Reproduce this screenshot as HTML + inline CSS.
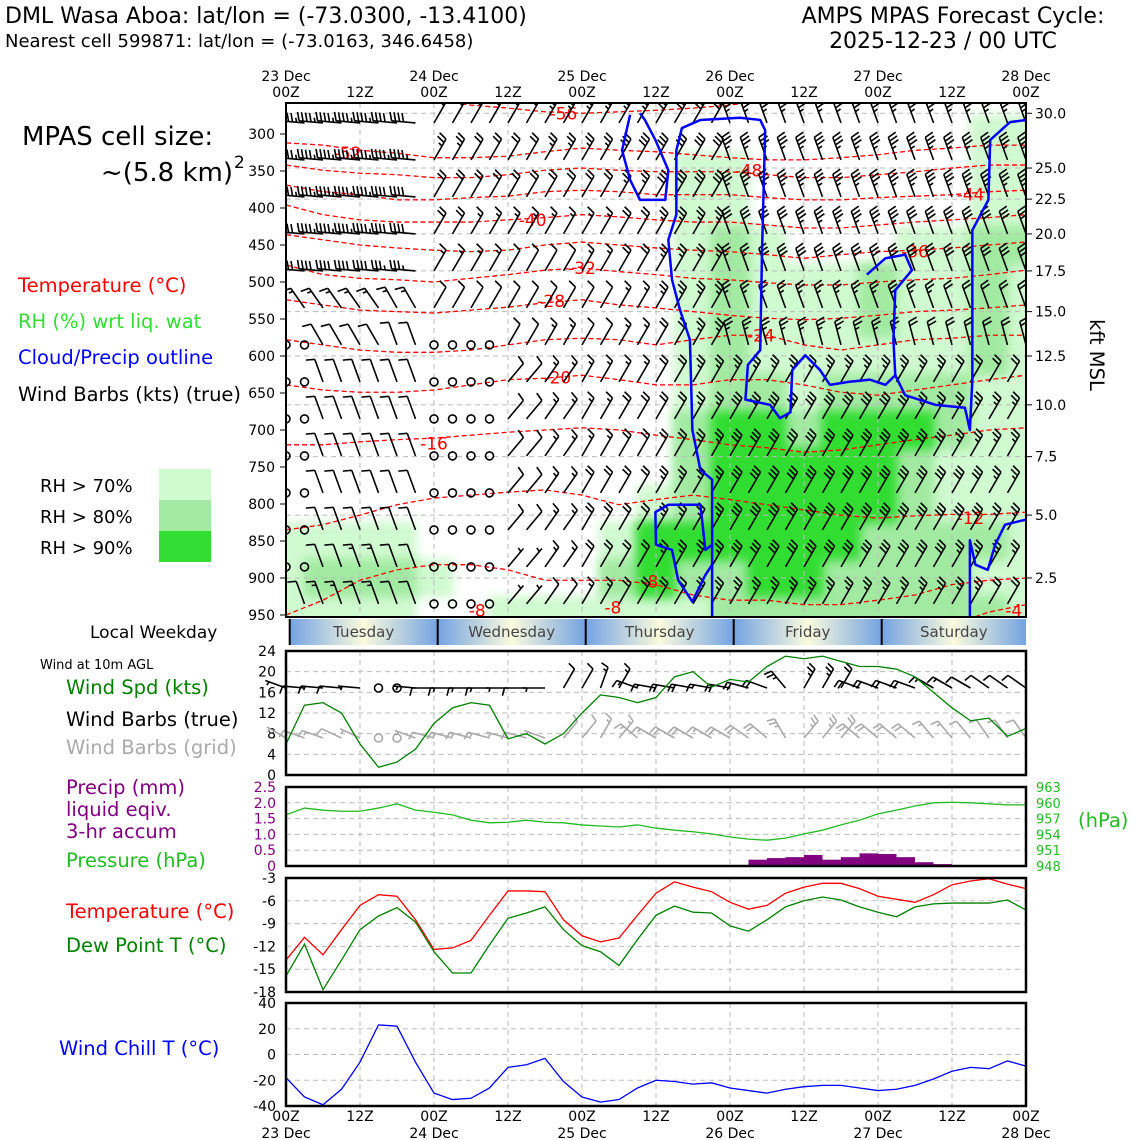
<!DOCTYPE html>
<html><head><meta charset="utf-8"><style>
html,body{margin:0;padding:0;background:#fff;}
svg{display:block;font-family:"DejaVu Sans","Liberation Sans",sans-serif;}
</style></head><body>
<svg id="chart" xmlns="http://www.w3.org/2000/svg" width="1140" height="1140" viewBox="0 0 1140 1140">
<defs>
<filter id="bl" x="-5%" y="-5%" width="110%" height="110%"><feGaussianBlur stdDeviation="5"/></filter>
<clipPath id="mainClip"><rect x="286" y="103" width="740" height="514"/></clipPath>
<linearGradient id="dayGrad" x1="0" y1="0" x2="1" y2="0"><stop offset="0" stop-color="#74a3e2"/><stop offset="0.5" stop-color="#fbfbdd"/><stop offset="1" stop-color="#74a3e2"/></linearGradient>
</defs>
<text x="5" y="23" font-size="22">DML Wasa Aboa: lat/lon = (-73.0300, -13.4100)</text>
<text x="5" y="47" font-size="18">Nearest cell 599871: lat/lon = (-73.0163, 346.6458)</text>
<text x="953" y="23" font-size="22" text-anchor="middle">AMPS MPAS Forecast Cycle:</text>
<text x="943" y="48" font-size="22" text-anchor="middle">2025-12-23 / 00 UTC</text>
<text x="22" y="145" font-size="26">MPAS cell size:</text>
<text x="233" y="181" font-size="26" text-anchor="end">~(5.8 km)</text>
<text x="234" y="168" font-size="17">2</text>
<text x="18" y="292" font-size="19.5" fill="#ff0000">Temperature (°C)</text>
<text x="18" y="328" font-size="19.5" fill="#33dd33">RH (%) wrt liq. wat</text>
<text x="18" y="364" font-size="19.5" fill="#0000ff">Cloud/Precip outline</text>
<text x="18" y="401" font-size="19.5">Wind Barbs (kts) (true)</text>
<text x="40" y="492" font-size="18">RH &gt; 70%</text>
<text x="40" y="523" font-size="18">RH &gt; 80%</text>
<text x="40" y="554" font-size="18">RH &gt; 90%</text>
<rect x="159" y="469" width="52" height="31" fill="#d0fad0"/>
<rect x="159" y="500" width="52" height="31" fill="#a2eaa2"/>
<rect x="159" y="531" width="52" height="31" fill="#33dd33"/>
<text x="90" y="638" font-size="17">Local Weekday</text>
<text x="40" y="669" font-size="13">Wind at 10m AGL</text>
<text x="66" y="694" font-size="19.5" fill="#008000">Wind Spd (kts)</text>
<text x="66" y="726" font-size="19.5">Wind Barbs (true)</text>
<text x="66" y="754" font-size="19.5" fill="#aaaaaa">Wind Barbs (grid)</text>
<text x="66" y="794" font-size="19.5" fill="#800080">Precip (mm)</text>
<text x="66" y="816" font-size="19.5" fill="#800080">liquid eqiv.</text>
<text x="66" y="838" font-size="19.5" fill="#800080">3-hr accum</text>
<text x="66" y="867" font-size="19.5" fill="#22bb22">Pressure (hPa)</text>
<text x="66" y="918" font-size="19.5" fill="#ff0000">Temperature (°C)</text>
<text x="66" y="952" font-size="19.5" fill="#008000">Dew Point T (°C)</text>
<text x="59" y="1055" font-size="19.5" fill="#0000ff">Wind Chill T (°C)</text>
<text x="1078" y="827" font-size="19.5" fill="#22bb22">(hPa)</text>
<text x="1090" y="355" font-size="19.5" text-anchor="middle" transform="rotate(90 1090 355)">kft MSL</text>
<g id="root"></g>
</svg>
<script>
// ---------- DATA ----------
const hours = [0,3,6,9,12,15,18,21,24,27,30,33,36,39,42,45,48,51,54,57,60,63,66,69,72,75,78,81,84,87,90,93,96,99,102,105,108,111,114,117,120];
const windSpd = [6,13.5,14,12,6,1.5,2.5,5,10,13,14,13.5,7,8,6,8,12,15.5,15,14,15,19,20,17,18.5,18,21,23,22.5,23,22,21,21,20.5,19,16,13,10.5,11,7.5,9];
const sfcDir = [200,185,185,185,185,185,190,185,180,180,180,180,180,180,180,300,300,290,300,200,190,190,190,190,190,195,200,230,300,300,300,200,200,200,200,210,210,210,215,215,215];
const gridDir = [210,200,200,205,205,205,210,200,195,195,195,195,195,195,200,310,310,300,310,220,210,210,210,210,210,215,220,240,310,310,310,220,220,220,220,230,230,230,235,235,235];
const pressure = [957.7,959.0,958.6,958.4,958.4,959.0,959.8,958.6,958.2,957.7,956.7,956.2,956.3,956.7,956.3,956.2,955.8,955.6,955.4,955.8,955.2,954.8,954.5,954.1,953.5,953.1,952.9,953.3,954.1,954.8,955.8,956.7,957.9,958.6,959.4,960.0,960.1,960.0,959.8,959.6,959.6];
const precip = [0,0,0,0,0,0,0,0,0,0,0,0,0,0,0,0,0,0,0,0,0,0,0,0,0,0,0.2,0.25,0.28,0.35,0.2,0.28,0.4,0.38,0.28,0.12,0.06,0,0,0,0];
const temp = [-13.8,-10.8,-13.1,-9.8,-6.6,-5.2,-5.4,-8.5,-12.4,-12.2,-11.2,-7.9,-4.7,-4.7,-4.8,-8.5,-10.6,-11.4,-10.9,-7.9,-5.0,-3.5,-4.2,-4.8,-6.2,-7.1,-6.6,-5.0,-4.2,-3.7,-3.7,-4.4,-5.4,-5.8,-6.2,-5.2,-3.9,-3.4,-3.1,-3.8,-4.4];
const dewpt = [-15.9,-11.7,-17.7,-13.8,-9.8,-8.0,-6.9,-8.8,-12.7,-15.5,-15.5,-11.8,-8.3,-7.6,-6.8,-9.8,-11.9,-12.7,-14.5,-11.1,-7.9,-6.7,-7.5,-7.6,-9.3,-10.0,-8.5,-6.8,-6.0,-5.5,-5.9,-6.8,-7.5,-8.1,-6.8,-6.4,-6.3,-6.3,-6.3,-5.9,-7.2];
const windChill = [-18,-33,-39,-27,-6,23,22,-6,-30,-35,-34,-26,-10,-8,-3,-21,-33,-37,-35,-26,-20,-21,-23,-22,-26,-28,-30,-27,-25,-24,-24,-26,-28,-27,-24,-19,-13,-10,-11,-5,-9];

const colHours = [0,6,12,18,24,30,36,42,48,54,60,66,72,78,84,90,96,102,108,114,120];
const rhLevels = [300,350,400,450,500,550,600,650,700,750,800,850,900,950];
const rhCat = [
[0,0,0,0,0,0,0,0,0,0,0,0,0,0,0,0,0,0,0,1,1],
[0,0,0,0,0,0,0,0,0,0,0,1,1,0,0,0,0,0,0,1,1],
[0,0,0,0,0,0,0,0,0,0,0,1,1,0,0,0,0,0,0,1,1],
[0,0,0,0,0,0,0,0,0,0,0,1,2,1,0,0,0,1,1,2,2],
[0,0,0,0,0,0,0,0,0,0,0,1,2,1,1,1,2,1,1,2,1],
[0,0,0,0,0,0,0,0,0,0,0,1,2,1,1,1,2,1,1,2,1],
[0,0,0,0,0,0,0,0,0,0,0,1,2,1,1,1,1,1,1,2,1],
[0,0,0,0,0,0,0,0,0,0,0,1,2,2,1,2,2,2,2,1,1],
[0,0,0,0,0,0,0,0,0,0,0,2,3,3,2,3,3,3,2,1,1],
[0,0,0,0,0,0,0,0,0,0,0,2,3,3,3,3,3,2,1,1,1],
[0,0,0,0,0,0,0,0,0,0,1,2,3,3,3,3,3,2,1,1,1],
[1,1,1,1,0,0,0,0,0,1,3,3,3,3,3,3,2,2,2,2,1],
[1,2,2,2,1,0,0,0,0,2,3,2,2,3,3,2,2,2,2,1,1],
[1,1,1,1,0,0,1,1,1,1,1,1,2,2,2,2,2,2,2,2,1]];

const isoValues = [-56,-52,-48,-44,-40,-36,-32,-28,-24,-20,-16,-12,-8,-4];
const isoP = [
[247,247,247,247,254,261,265,270,272,270,268,265,261,254,251,247,247,247,247,247,247],
[312,315,322,326,332,332,330,324,319,322,324,328,332,335,335,332,328,322,319,315,315],
[342,349,353,355,359,359,355,349,346,349,351,351,351,355,359,359,355,351,346,342,342],
[369,378,382,389,389,386,384,378,376,378,382,382,382,386,389,389,386,384,382,378,376],
[396,409,416,419,419,419,416,413,409,412,416,419,419,423,427,427,423,419,416,413,409],
[436,443,450,454,457,459,457,450,446,450,454,457,459,463,468,463,459,457,454,450,446],
[477,490,495,497,500,495,490,484,481,486,490,495,497,501,504,504,500,497,495,490,484],
[524,531,538,540,542,538,534,528,524,531,535,540,545,549,551,549,545,540,538,535,531],
[578,585,592,595,595,592,585,578,576,578,585,578,572,572,585,592,585,578,576,572,572],
[639,646,649,649,646,639,632,630,626,632,639,639,632,632,639,649,653,646,639,632,626],
[720,720,716,713,711,707,703,700,697,700,707,713,720,724,730,727,720,713,707,700,697],
[835,828,815,801,792,788,784,781,788,801,794,788,794,801,808,815,819,816,814,814,811],
[950,930,903,889,882,882,889,903,903,903,909,923,930,930,936,936,930,923,909,903,900],
[1011,1011,1011,1011,1011,1011,1011,1011,1011,1011,1011,1011,1011,1011,1011,1011,997,984,963,946,936]];
const isoLabels = ["-56","-52","-48","-44","-40","-36","-32","-28","-24","-20","-16","-12","-8","-8","-8","-4"];
const isoLabelHours = [45,10,75,111,40,102,48,43,77,44,24,111,59,53,31,118];
const isoLabelP = [272,326,349,382,416,459,481,526,572,629,718,819,905,940,944,944];

const cloudLines = [
[[55.8,274],[54.5,322],[55.8,362],[57.4,389],[61.5,389],[62,349],[59.9,308],[58.2,281],[57.4,272]],
[[69.1,953],[69.1,767],[67.2,754],[65.9,700],[65.5,578],[63.9,538],[62.6,497],[62,443],[63.3,409],[63.3,322],[64.2,292],[67.2,281],[73.6,278],[76.9,281],[77.7,295],[77.2,457],[76.9,592],[74.9,612],[74.5,659],[78.5,666],[80.1,684],[81.8,676],[82.1,619],[84.2,599],[86.6,619],[88.2,639],[91.2,635],[94.7,632],[97.2,639],[98.8,626],[100.4,653],[105.3,666],[110.1,670],[110.9,700],[111.3,632],[111.3,430],[113.9,389],[114.2,308],[117.4,284],[120,281]],
[[94.2,490],[97.2,468],[100.4,463],[101.5,484],[98.8,511],[98.5,578],[98.8,626]],
[[69.1,855],[68,862],[67.2,801],[62,801],[59.9,811],[60,855],[62.6,862],[63.6,903],[65.9,932],[68,896],[69.1,882]],
[[120,821],[116.6,828],[115,855],[113.8,889],[111.8,882],[110.9,849],[110.9,953]]];

const barbLevels = [285,335,385,435,485,535,585,635,685,735,785,835,885,935];
const barbSpd = [
[45,45,45,40,20,20,20,25,25,25,30,30,35,35,35,35,35,35,35,35,35],
[45,45,45,45,25,20,20,25,25,30,30,30,35,35,35,35,35,35,35,35,35],
[45,45,45,40,20,20,20,20,20,25,30,30,35,35,35,35,35,35,35,35,35],
[40,45,45,40,20,15,15,15,15,20,25,25,30,30,35,35,35,30,30,30,30],
[40,40,40,35,15,15,10,10,15,20,25,25,25,30,30,30,30,30,30,30,30],
[15,15,15,15,10,10,10,10,10,15,25,25,25,25,25,25,25,25,20,20,20],
[0,10,10,10,0,0,10,15,10,15,20,25,25,25,25,25,25,20,20,20,20],
[0,10,10,10,0,0,10,15,15,15,20,25,25,25,25,25,25,25,20,20,20],
[0,10,10,10,0,0,10,15,15,20,20,25,30,30,30,30,30,25,25,25,25],
[0,10,10,10,0,0,10,15,15,20,20,25,30,30,30,30,30,30,25,25,25],
[0,10,10,10,0,0,10,15,20,20,25,25,30,30,30,30,30,30,30,25,25],
[0,10,10,10,0,0,10,15,20,20,25,25,30,30,30,30,30,30,30,25,25],
[0,10,15,10,0,0,5,15,20,20,25,25,30,30,30,30,30,30,25,25,25],
[10,15,15,10,0,0,5,10,15,20,20,25,25,25,25,25,25,25,25,20,20]];
const barbAng = [
[-185,-185,-185,-185,300,300,300,300,300,300,300,300,-250,-250,-250,-250,-250,-250,-250,-250,-250],
[-185,-185,-185,-185,300,300,300,300,300,300,300,300,-250,-250,-250,-250,-250,-250,-250,-250,-250],
[-185,-185,-185,-185,300,300,300,300,300,300,300,300,-250,-250,-250,-250,-250,-250,-250,-250,-250],
[-185,-185,-185,-185,300,300,300,300,300,300,300,300,-250,-250,-250,-250,-250,-250,-250,-250,-250],
[-185,-185,-185,-185,300,300,300,300,300,300,300,300,-250,-250,-250,-250,-250,-250,-250,-250,-250],
[235,235,235,240,300,300,300,300,300,300,300,300,-250,-250,-250,-250,-250,-250,-250,-250,-250],
[240,240,240,250,300,300,300,300,300,300,300,300,-255,-255,-255,-255,-255,-255,-255,-255,-255],
[250,250,250,250,300,300,310,305,300,300,300,300,300,300,300,300,300,300,300,300,300],
[250,250,250,250,300,300,310,305,300,300,300,300,300,300,300,300,300,300,300,300,300],
[250,250,250,250,300,300,310,305,300,300,300,300,300,300,300,300,300,300,300,300,300],
[250,250,250,250,300,300,310,305,300,300,300,300,300,300,300,300,300,300,300,300,300],
[250,250,250,250,300,300,310,305,300,300,300,300,300,300,300,300,300,300,300,300,300],
[250,250,250,250,300,300,310,305,300,300,300,300,300,300,300,300,300,300,300,300,300],
[250,250,250,250,300,300,310,305,300,300,300,300,300,300,300,300,300,300,300,300,300]];

const pTicks = [300,350,400,450,500,550,600,650,700,750,800,850,900,950];
const kftLabels = ["30.0","25.0","22.5","20.0","17.5","15.0","12.5","10.0","7.5","5.0","2.5"];
const kftP = [272,346,388,435,485,540,600,666,736,815,900];
const dayNames = ["Tuesday","Wednesday","Thursday","Friday","Saturday"];
const dayBounds = [0.6,24.6,48.6,72.6,96.6,120];
const timeTickHours = [0,12,24,36,48,60,72,84,96,108,120];
const timeTickLabels = ["00Z","12Z","00Z","12Z","00Z","12Z","00Z","12Z","00Z","12Z","00Z"];
const dateLabels = ["23 Dec","","24 Dec","","25 Dec","","26 Dec","","27 Dec","","28 Dec"];
const windTicks = [0,4,8,12,16,20,24];
const precipTicks = [0,0.5,1.0,1.5,2.0,2.5];
const presTicks = [948,951,954,957,960,963];
const tempTicks = [-18,-15,-12,-9,-6,-3];
const chillTicks = [-40,-20,0,20,40];

// ---------- SCALES ----------
const X = h => 286 + h*740/120;
const P = p => 134 + (p-300)*0.74;
const W = v => 775 - v*124/24;
const R = v => 866 - v*79/2.5;
const PP = v => 866 - (v-948)*79/15;
const T = v => 878 + (-3-v)*114/15;
const C = v => 1003 + (40-v)*103/80;

const NS='http://www.w3.org/2000/svg';
const root=document.getElementById('root');
function el(tag,attrs,parent){const e=document.createElementNS(NS,tag);for(const k in attrs)e.setAttribute(k,attrs[k]);(parent||root).appendChild(e);return e;}
function txt(s,attrs,parent){const e=el('text',attrs,parent);e.textContent=s;return e;}

// ---------- MAIN PANEL ----------
const mainG=el('g',{'clip-path':'url(#mainClip)'});


const rhColors=['#d0fad0','#a2eaa2','#33dd33'];
for(let lev=1;lev<=3;lev++){
  const lg=el('g',{filter:'url(#bl)'},mainG);
  
  
  rhCat.forEach((row,k)=>row.forEach((v,j)=>{
    if(v>=lev){
      const r=el('rect',{x:X(colHours[j]-3.2),y:P(rhLevels[k]-26),width:X(colHours[j]+3.2)-X(colHours[j]-3.2),height:P(rhLevels[k]+26)-P(rhLevels[k]-26),fill:rhColors[lev-1]},lg);
      
      
    }
  }));
}
timeTickHours.forEach(h=>{
  const l=el('line',{x1:X(h),x2:X(h),y1:103,y2:617,stroke:'#bbb','stroke-dasharray':'5,4','stroke-width':1},mainG);
  
  
});
kftP.forEach(p=>{
  const l=el('line',{x1:286,x2:1026,y1:P(p),y2:P(p),stroke:'#bbb','stroke-dasharray':'5,4','stroke-width':1},mainG);
  
  
});
isoP.forEach((arr,i)=>{
  const pts=arr.map((p,j)=>X(colHours[j])+','+P(p)).join(' ');
  const l=el('polyline',{points:pts,fill:'none',stroke:'#ff0000','stroke-width':1.3,'stroke-dasharray':'5,3'},mainG);
  
  
});
isoLabels.forEach((s,i)=>{
  const t=txt(s,{x:X(isoLabelHours[i]),y:P(isoLabelP[i])+6,'font-size':17,fill:'#ff0000','text-anchor':'middle'},mainG);
  
  
});
function barb(parent,x,y,spd,ang,color,len,fl){
  const g=el('g',{stroke:color,'stroke-width':1.6,fill:'none'},parent);
  if(spd<3){el('circle',{cx:x,cy:y,r:4},g);return g;}
  const mir=ang<0; const a=Math.abs(ang)*Math.PI/180;
  const sx=Math.cos(a), sy=Math.sin(a);
  const fa=a+(mir?75:-75)*Math.PI/180; const fx=Math.cos(fa), fy=Math.sin(fa);
  const tx=x+len*sx, ty=y+len*sy;
  el('line',{x1:x,y1:y,x2:tx,y2:ty},g);
  let rem=Math.round(spd/5)*5, d=0;
  while(rem>=50){const bx=tx-d*sx,by=ty-d*sy;el('polygon',{points:`${bx},${by} ${bx+fl*fx},${by+fl*fy} ${bx-6*sx},${by-6*sy}`,fill:color},g);d+=8;rem-=50;}
  while(rem>=10){const bx=tx-d*sx,by=ty-d*sy;el('line',{x1:bx,y1:by,x2:bx+fl*fx,y2:by+fl*fy},g);d+=4;rem-=10;}
  if(rem>=5){if(d===0)d=4;const bx=tx-d*sx,by=ty-d*sy;el('line',{x1:bx,y1:by,x2:bx+fl*0.5*fx,y2:by+fl*0.5*fy},g);}
  return g;
}
barbLevels.forEach((p,k)=>{
  hours.forEach((h,i)=>{
    const j=Math.floor(i/2);
    const b=barb(mainG,X(h),P(p),barbSpd[k][j],barbAng[k][j],'#000',24,9);
    
    
  });
});
cloudLines.forEach(line=>{
  const pts=line.map(q=>X(q[0])+','+P(q[1])).join(' ');
  const l=el('polyline',{points:pts,fill:'none',stroke:'#0000ff','stroke-width':2.5,'stroke-linejoin':'round'},mainG);
  
  
});
const mf=el('rect',{x:286,y:103,width:740,height:514,fill:'none',stroke:'#000','stroke-width':2});


pTicks.forEach(p=>{
  const t=txt(String(p),{x:275,y:P(p)+5,'font-size':14,'text-anchor':'end'});
  
  
  const tk=el('line',{x1:280,x2:286,y1:P(p),y2:P(p),stroke:'#000'});
  
  
});
kftLabels.forEach((s,i)=>{
  const t=txt(s,{x:1035,y:P(kftP[i])+5,'font-size':14});
  
  
  const tk=el('line',{x1:1026,x2:1032,y1:P(kftP[i]),y2:P(kftP[i]),stroke:'#000'});
  
  
});
timeTickHours.forEach((h,i)=>{
  if(dateLabels[i]){const t=txt(dateLabels[i],{x:X(h),y:81,'font-size':14,'text-anchor':'middle'});
  
  }
  const t2=txt(timeTickLabels[i],{x:X(h),y:97,'font-size':14,'text-anchor':'middle'});
  
  
  const b1=txt(timeTickLabels[i],{x:X(h),y:1121,'font-size':14,'text-anchor':'middle'});
  
  
  if(dateLabels[i]){const b2=txt(dateLabels[i],{x:X(h),y:1138,'font-size':14,'text-anchor':'middle'});
  
  }
});

// ---------- WEEKDAY BAR ----------
dayNames.forEach((d,i)=>{
  const x0=X(dayBounds[i]), x1=X(dayBounds[i+1]);
  const r=el('rect',{x:x0,y:619,width:x1-x0,height:26,fill:'url(#dayGrad)'});
  
  
  const s=el('line',{x1:x0,x2:x0,y1:619,y2:645,stroke:'#000','stroke-width':2});
  
  
  const t=txt(d,{x:(x0+x1)/2,y:637,'font-size':15,fill:'#444','text-anchor':'middle'});
  
  
});

// ---------- SMALL PANELS ----------
function panel(name,y0,y1,ticks,scale,fmt,color,rightTicks,rscale,rcolor){
  const g=el('g',{});
  
  
  timeTickHours.forEach(h=>{
    const l=el('line',{x1:X(h),x2:X(h),y1:y0,y2:y1,stroke:'#bbb','stroke-dasharray':'5,4'},g);
    
    
  });
  (rightTicks||ticks).forEach(v=>{
    const y=(rscale||scale)(v);
    const l=el('line',{x1:286,x2:1026,y1:y,y2:y,stroke:'#bbb','stroke-dasharray':'5,4'},g);
    
    
  });
  ticks.forEach(v=>{
    const t=txt(fmt(v),{x:276,y:scale(v)+5,'font-size':14,'text-anchor':'end',fill:color},g);
    
    
  });
  if(rightTicks) rightTicks.forEach(v=>{
    const t=txt(String(v),{x:1036,y:rscale(v)+5,'font-size':13,fill:rcolor},g);
    
    
  });
  return g;
}
function frame(name,y0,y1){
  const f=el('rect',{x:286,y:y0,width:740,height:y1-y0,fill:'none',stroke:'#000','stroke-width':2.5});
  
  
}
function series(vals,scale,color,name,g){
  const pts=vals.map((v,i)=>X(hours[i])+','+scale(v)).join(' ');
  const l=el('polyline',{points:pts,fill:'none',stroke:color,'stroke-width':1.3},g);
  
  
}
const wg=panel('wind-panel',651,775,windTicks,W,v=>String(v),'#000');
windSpd.forEach((v,i)=>{
  const b=barb(wg,X(hours[i]),688,v,sfcDir[i],'#000',22,8);
  
  
  const b2=barb(wg,X(hours[i]),738,v,gridDir[i],'#aaaaaa',22,8);
  
  
});
series(windSpd,W,'#008000','wind-speed-line',wg);
frame('wind-panel-frame',651,775);
const pg=panel('precip-pressure-panel',787,866,precipTicks,R,v=>v===0?'0':v.toFixed(1),'#800080',presTicks.slice(1),PP,'#22bb22');
const bt=txt('948',{x:1036,y:PP(948)+5,'font-size':13,fill:'#22bb22'},pg);


precip.forEach((v,i)=>{
  if(v>0){const r=el('rect',{x:X(hours[i]-3),y:R(v),width:X(hours[i])-X(hours[i]-3),height:R(0)-R(v),fill:'#800080'},pg);
  
  }
});
series(pressure,PP,'#22bb22','pressure-line',pg);
frame('precip-panel-frame',787,866);
const tg=panel('temperature-panel',878,992,tempTicks,T,v=>String(v),'#000');
series(temp,T,'#ff0000','temperature-line',tg);
series(dewpt,T,'#008000','dewpoint-line',tg);
frame('temperature-panel-frame',878,992);
const cg=panel('wind-chill-panel',1003,1106,chillTicks,C,v=>String(v),'#000');
series(windChill,C,'#0000ff','wind-chill-line',cg);
frame('wind-chill-panel-frame',1003,1106);
</script>
</body></html>
